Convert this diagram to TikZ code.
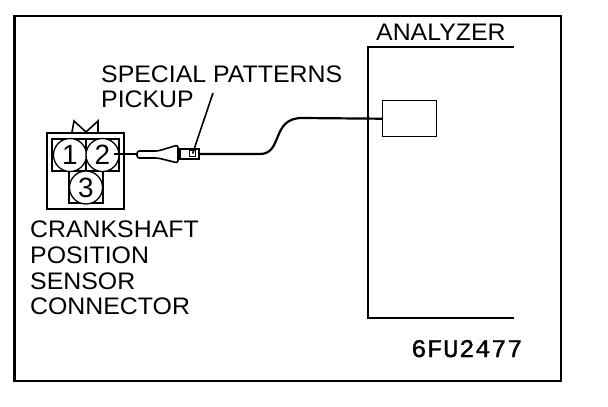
\documentclass[tikz,border=0pt]{standalone}
\usepackage{fontspec}
\setmainfont{Liberation Sans}
\newfontfamily\stretchC{Liberation Sans}[FakeStretch=1.04]
\newfontfamily\codefont{Liberation Mono}[FakeBold=1.2,LetterSpace=3]
\begin{document}
\begin{tikzpicture}[x=1bp,y=-1bp,
  lblC/.style={anchor=base west,inner sep=0pt,font=\stretchC\fontsize{24}{24}\selectfont},
  pin/.style={circle,draw,line width=1.3bp,minimum size=33bp,inner sep=0pt,font=\fontsize{28}{28}\selectfont},
  heavy/.style={line width=2.6bp},
  thin box/.style={draw,line width=1.4bp}]
\useasboundingbox (0,0) rectangle (608,406);
\fill[white] (0,0) rectangle (608,406);
\draw[heavy] (14.5,16) rectangle (561,381);
% analyzer
\coordinate (aT) at (514,47);
\coordinate (aC) at (368,47);
\coordinate (aL) at (368,318);
\coordinate (aB) at (514,318);
\draw[heavy] (aT) -- (aC) -- (aL) -- (aB);
\node[thin box,minimum width=54bp,minimum height=36bp,inner sep=0pt,anchor=north west] (abox) at (382,100) {};
\node[lblC] (tAn) at (376,40) {ANALYZER};
\node[lblC] (tSp) at (101,82) {SPECIAL PATTERNS};
\node[lblC] (tPi) at (101,107) {PICKUP};
\node[lblC] at (30,237) {CRANKSHAFT};
\node[lblC] at (30,263) {POSITION};
\node[lblC] at (30,289) {SENSOR};
\node[lblC] at (30,314) {CONNECTOR};
\node[anchor=base west,inner sep=0pt,font=\codefont\fontsize{25.5}{25}\selectfont] at (411,357) {6FU2477};
% connector
\draw[line width=2.6bp] (47,133) rectangle (124,209);
\draw[line width=1.2bp] (52,139) rectangle (119,171);
\draw[line width=1.2bp] (86,139) -- (86,171);
\draw[line width=1.2bp] (69,171) rectangle (103,203);
\draw[line width=1.6bp] (72,132) -- (74,121) -- (86,132) -- (98,121) -- (98,132);
\node[pin,fill=white] (p1) at (70,155) {1};
\node[pin,fill=white] (p2) at (102.5,155) {2};
\node[pin,fill=white] (p3) at (86,187.5) {3};
% probe
\draw[line width=2.4bp] (p2.center) ++(11,-1) coordinate (ps) -- (137,154);
\draw[line width=1.6bp,rounded corners=2.5bp] (137,151) -- (158,151) -- (178,145) -- (178,163) -- (158,158) -- (137,158) -- cycle;
\draw[line width=1.6bp] (180,149) rectangle (199,159);
\node[draw,line width=1.2bp,minimum size=6bp,inner sep=0pt,anchor=north west] (cl) at (189,150) {};
\coordinate (lead) at (213,93);
\draw[line width=1.6bp] (lead) -- (cl.center);
\draw[line width=2.2bp] (199,154) -- (260,154) .. controls (283,154) and (271,118) .. (302,118) -- (abox.west);
\end{tikzpicture}
\end{document}
